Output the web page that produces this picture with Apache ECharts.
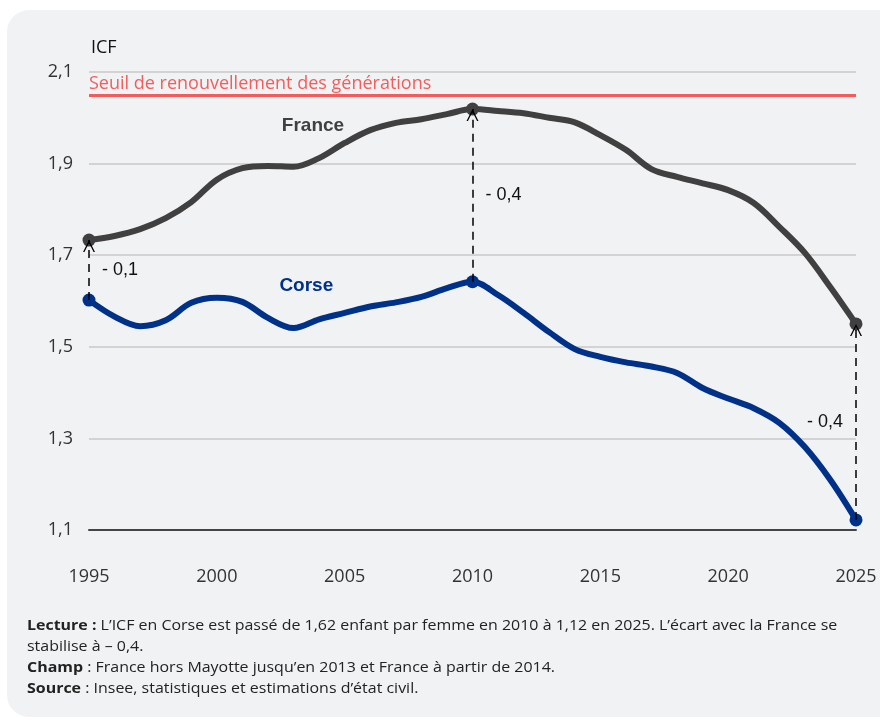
<!DOCTYPE html>
<html>
<head>
<meta charset="utf-8">
<script src="https://cdn.jsdelivr.net/npm/echarts@6/dist/echarts.min.js"></script>
<style>
    html, body { margin: 0; padding: 0; background: #ffffff; }
    #card {
        position: absolute; left: 7px; top: 10px; width: 920px; height: 707px;
        background: #f1f2f4; border-radius: 22px;
    }
    #chart { position: absolute; left: 0; top: 0; width: 880px; height: 722px; }
    #note {
        position: absolute; left: 27px; top: 614px; white-space: nowrap;
        font-family: "Open Sans", sans-serif; font-size: 14px; line-height: 21px; color: #222;
        transform: scaleX(1.14); transform-origin: 0 0;
    }
    #note b { font-weight: 700; }
</style>
</head>
<body>
<div id="card"></div>
<div id="chart"></div>
<div id="note">
    <b>Lecture :</b> L’ICF en Corse est passé de 1,62 enfant par femme en 2010 à 1,12 en 2025. L’écart avec la France se<br>
    stabilise à – 0,4.<br>
    <b>Champ</b> : France hors Mayotte jusqu’en 2013 et France à partir de 2014.<br>
    <b>Source</b> : Insee, statistiques et estimations d’état civil.
</div>
<script>
// années 1995 -> 2025
const years = [1995, 1996, 1997, 1998, 1999, 2000, 2001, 2002, 2003, 2004,
    2005, 2006, 2007, 2008, 2009, 2010, 2011, 2012, 2013, 2014,
    2015, 2016, 2017, 2018, 2019, 2020, 2021, 2022, 2023, 2024, 2025];

const france = [1.733, 1.742, 1.757, 1.781, 1.816, 1.865, 1.89, 1.895, 1.893, 1.912,
    1.945, 1.973, 1.989, 1.997, 2.008, 2.019, 2.015, 2.01, 2.0, 1.99,
    1.962, 1.93, 1.888, 1.871, 1.857, 1.842, 1.814, 1.762, 1.705, 1.63, 1.55];

const corse = [1.602, 1.566, 1.545, 1.558, 1.596, 1.607, 1.598, 1.563, 1.541, 1.56,
    1.574, 1.588, 1.597, 1.609, 1.628, 1.642, 1.613, 1.574, 1.532, 1.495,
    1.478, 1.466, 1.457, 1.443, 1.41, 1.387, 1.366, 1.334, 1.281, 1.209, 1.122];

const keyYears = [1995, 2010, 2025];
const gapLabels = ['- 0,1', '- 0,4', '- 0,4'];
const seuil = 2.05;
const yTicks = [1.1, 1.3, 1.5, 1.7, 1.9, 2.1];
const xTicks = [1995, 2000, 2005, 2010, 2015, 2020, 2025];

const GREY = '#404040';
const BLUE = '#003189';
const RED = '#f45c5c';

function toData(values) {
    return years.map((y, i) => {
        const isKey = keyYears.indexOf(y) >= 0;
        return {
            value: [y, values[i]],
            symbol: isKey ? 'circle' : 'none',
            symbolSize: isKey ? 13 : 0
        };
    });
}

// chevron ouvert (pointe en haut)
const arrowPath = 'path://M0,10L5,0L10,10L8.8,10L5,2.4L1.2,10Z';

const chart = echarts.init(document.getElementById('chart'));

chart.setOption({
    animation: false,
    textStyle: { fontFamily: 'Open Sans' },
    title: {
        text: 'ICF', left: 86, top: 34,
        textStyle: { fontFamily: 'Open Sans', fontSize: 18, fontWeight: 'normal', color: '#111' }
    },
    grid: { left: 89, right: 24, top: 72, bottom: 192 },
    xAxis: {
        type: 'value', min: xTicks[0], max: xTicks[xTicks.length - 1], interval: 5,
        axisLine: { show: true, lineStyle: { color: '#444', width: 2 } },
        axisTick: { show: false },
        splitLine: { show: false },
        axisLabel: {
            margin: 38, fontSize: 18, color: '#333', fontFamily: 'Open Sans',
            formatter: v => String(v)
        }
    },
    yAxis: {
        type: 'value', min: yTicks[0], max: yTicks[yTicks.length - 1], interval: 0.2,
        axisLine: { show: false },
        axisTick: { show: false },
        splitLine: { lineStyle: { color: '#c8c8c8', width: 1.5 } },
        axisLabel: {
            margin: 16, fontSize: 18, color: '#333', fontFamily: 'Open Sans',
            formatter: v => v.toFixed(1).replace('.', ',')
        }
    },
    series: [
        {
            name: 'Corse', type: 'line', smooth: 0.35, showAllSymbol: true,
            data: toData(corse),
            lineStyle: { color: BLUE, width: 6 },
            itemStyle: { color: BLUE },
            z: 3,
            markLine: {
                silent: true,
                symbol: 'none',
                lineStyle: { color: '#000', width: 1.5, type: [8, 6] },
                label: { show: false },
                data: keyYears.map(y => {
                    const i = years.indexOf(y);
                    return [{ coord: [y, corse[i]] }, { coord: [y, france[i]] }];
                })
            },
            markPoint: {
                silent: true, symbol: 'circle', symbolSize: 0,
                data: [{
                    coord: [2003.5, 1.633],
                    label: {
                        show: true, formatter: 'Corse', color: BLUE, fontSize: 19,
                        fontWeight: 'bold', fontFamily: 'Liberation Sans'
                    }
                }].concat(keyYears.map((y, k) => {
                    const i = years.indexOf(y);
                    const last = k === keyYears.length - 1;
                    return {
                        coord: [y, (corse[i] + france[i]) / 2],
                        label: {
                            show: true, formatter: gapLabels[k], color: '#111', fontSize: 18,
                            fontFamily: 'Liberation Sans',
                            position: last ? 'left' : 'right', distance: 13
                        }
                    };
                }))
            }
        },
        {
            name: 'France', type: 'line', smooth: 0.35, showAllSymbol: true,
            data: toData(france),
            lineStyle: { color: GREY, width: 6 },
            itemStyle: { color: GREY },
            z: 4,
            markLine: {
                silent: true, symbol: 'none',
                data: [{
                    yAxis: seuil,
                    lineStyle: { color: RED, width: 3, type: 'solid' },
                    label: {
                        show: true, position: 'insideStartTop', formatter: 'Seuil de renouvellement des générations',
                        color: RED, fontSize: 18, fontFamily: 'Open Sans', distance: [0, 2]
                    }
                }]
            },
            markPoint: {
                silent: true, symbol: 'circle', symbolSize: 0,
                data: [{
                    coord: [2003.76, 1.982],
                    label: {
                        show: true, formatter: 'France', color: GREY, fontSize: 19,
                        fontWeight: 'bold', fontFamily: 'Liberation Sans'
                    }
                }].concat(keyYears.map(y => ({
                    coord: [y, france[years.indexOf(y)]],
                    symbol: arrowPath,
                    symbolSize: [12, 12],
                    symbolOffset: [0, 6],
                    itemStyle: { color: '#000' },
                    label: { show: false }
                })))
            }
        }
    ]
});
</script>
</body>
</html>
